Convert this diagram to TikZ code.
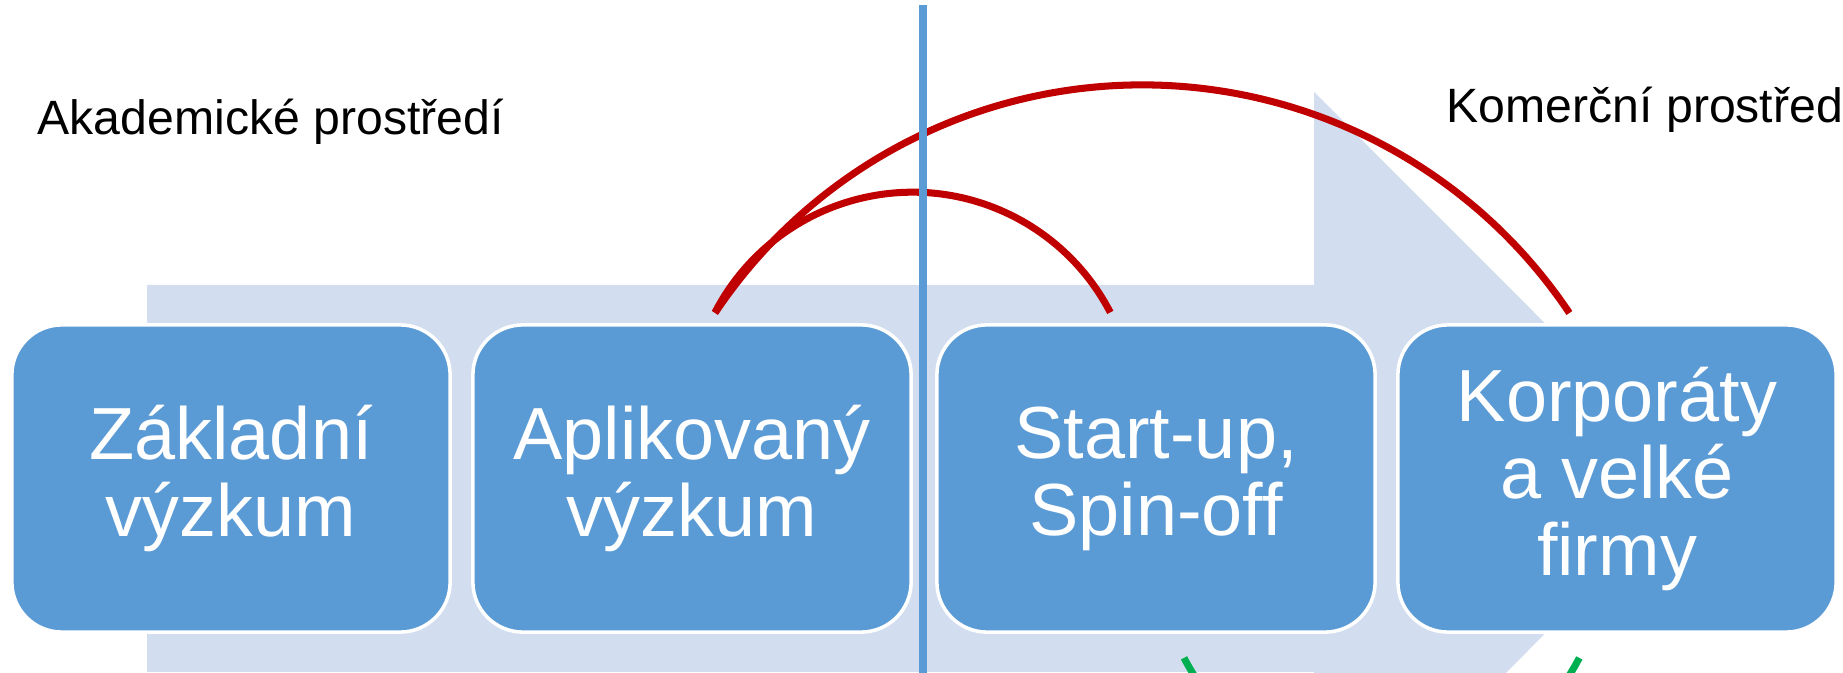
\documentclass[tikz,border=0pt]{standalone}
\usepackage{fontspec}
\setmainfont{Liberation Sans}
\definecolor{boxblue}{HTML}{5B9BD5}
\definecolor{bgarrow}{HTML}{D2DEEF}
\definecolor{arcred}{HTML}{C00000}
\definecolor{arcgreen}{HTML}{00B050}
\tikzset{
  stagebox/.style={rectangle, rounded corners=0.5cm, fill=boxblue, draw=white, line width=1pt,
    minimum width=4.38cm, minimum height=3.07cm, text=white, align=center,
    font=\fontsize{21}{21.9}\selectfont, inner sep=0pt},
  envlabel/.style={anchor=base west, inner sep=0pt, font=\fontsize{13.7}{16}\selectfont, text=black},
  redarc/.style={draw=arcred, line width=2pt},
  greenarc/.style={draw=arcgreen, line width=2pt},
  divider/.style={draw=boxblue, line width=2.3pt}
}
\begin{document}
\begin{tikzpicture}[x=0.01cm, y=0.01cm]
\useasboundingbox (0,0) rectangle (1843,673);
\begin{scope}
\clip (0,0) rectangle (1843,673);
% background arrow
\fill[bgarrow] (147,388) -- (1314,388) -- (1314,581) -- (1700,194.5) -- (1314,-192) -- (1314,1) -- (147,1) -- cycle;
% boxes
\node[stagebox] (b1) at (231,194.5) {Základní\\výzkum};
\node[stagebox] (b2) at (692,194.5) {Aplikovaný\\výzkum};
\node[stagebox] (b3) at (1156,194.5) {Start-up,\\Spin-off};
\node[stagebox] (b4) at (1617,194.5) {Korporáty\\a velké\\firmy};
% red arcs
\coordinate (r0) at (715,360.6);
\draw[redarc] (r0) arc[start angle=152.6, end angle=27.4, radius=2.225cm] coordinate (r1);
\coordinate (r0b) at (715,360);
\draw[redarc] (r0b) arc[start angle=146.2, end angle=33.8, radius=5.138cm] coordinate (r2);
% green arc (mostly below the frame)
\coordinate (g0) at (1184,15.1);
\draw[greenarc] (g0) arc[start angle=207.4, end angle=332.6, radius=2.225cm] coordinate (g1);
% divider
\coordinate (d0) at (923,668);
\coordinate (d1) at (923,-5);
\draw[divider] (d0) -- (d1);
\end{scope}
% labels
\node[envlabel] (lacad) at (37,538) {Akademické prostředí};
\node[envlabel] (lcom) at (1446,550) {Komerční prostřed};
\end{tikzpicture}
\end{document}
